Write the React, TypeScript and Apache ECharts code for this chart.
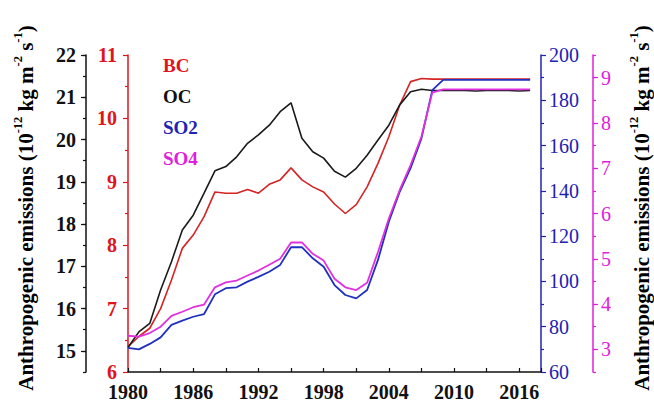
import React, { useEffect, useRef } from "react";
import * as echarts from "echarts";

const years = [
  1980, 1981, 1982, 1983, 1984, 1985, 1986, 1987, 1988, 1989, 1990, 1991, 1992,
  1993, 1994, 1995, 1996, 1997, 1998, 1999, 2000, 2001, 2002, 2003, 2004, 2005,
  2006, 2007, 2008, 2009, 2010, 2011, 2012, 2013, 2014, 2015, 2016, 2017,
];

const bcValues = [
  6.40, 6.56, 6.69, 7.00, 7.45, 7.95, 8.16, 8.45, 8.84, 8.82, 8.82, 8.88, 8.82,
  8.96, 9.03, 9.22, 9.03, 8.92, 8.84, 8.65, 8.50, 8.64, 8.92, 9.29, 9.71, 10.21,
  10.58, 10.63, 10.62, 10.62, 10.62, 10.62, 10.62, 10.62, 10.62, 10.62, 10.62, 10.62,
];

const ocValues = [
  15.08, 15.45, 15.65, 16.44, 17.11, 17.86, 18.21, 18.73, 19.26, 19.36, 19.59,
  19.91, 20.11, 20.34, 20.66, 20.87, 20.03, 19.71, 19.56, 19.25, 19.11, 19.32,
  19.63, 19.99, 20.34, 20.82, 21.13, 21.19, 21.16, 21.16, 21.17, 21.16, 21.15,
  21.16, 21.17, 21.16, 21.15, 21.16,
];

const so2Values = [
  70.7, 70.0, 72.4, 75.3, 80.8, 82.7, 84.4, 85.6, 94.3, 97.0, 97.4, 99.9, 102.0,
  104.3, 107.3, 115.1, 115.1, 110.2, 106.5, 98.4, 94.0, 92.5, 96.2, 109.5, 126.4,
  139.6, 150.0, 163.2, 184.5, 189.0, 189.0, 189.0, 189.0, 189.0, 189.0, 189.0,
  189.0, 189.0,
];

const so4Values = [
  3.30, 3.28, 3.36, 3.50, 3.74, 3.83, 3.93, 3.99, 4.37, 4.48, 4.52, 4.63, 4.74,
  4.87, 5.00, 5.36, 5.36, 5.11, 4.96, 4.56, 4.37, 4.31, 4.47, 5.15, 5.89, 6.52,
  7.07, 7.70, 8.67, 8.74, 8.74, 8.74, 8.74, 8.74, 8.74, 8.74, 8.74, 8.74,
];

const seriesNames = ["BC", "OC", "SO2", "SO4"];
const ocTickLabels = [15, 16, 17, 18, 19, 20, 21, 22];
const so4TickLabels = [3, 4, 5, 6, 7, 8, 9];

const RED = "#e0141c";
const BLACK = "#111111";
const BLUE = "#2222b4";
const MAGENTA = "#e020dc";
const FONT = "'Liberation Serif', 'DejaVu Serif', serif";

const toPairs = (vals: number[]) => years.map((y, i) => [y, vals[i]]);

export default function App() {
  const ref = useRef<HTMLDivElement>(null);

  useEffect(() => {
    if (!ref.current) return;
    const chart = echarts.init(ref.current, undefined, { renderer: "svg" });

    const labelStyle = (color: string, bold: boolean, margin: number) => ({
      color,
      fontFamily: FONT,
      fontSize: 20,
      fontWeight: bold ? "bold" : "normal",
      margin,
    });

    const titleText =
      "{a|Anthropogenic emissions (10}{s|-12}{a| kg m}{s|-2}{a| s}{s|-1}{a|)}";
    const titleRich = {
      a: {
        fontFamily: FONT,
        fontSize: 21,
        fontWeight: "bold",
        color: "#000",
        lineHeight: 25,
        verticalAlign: "bottom",
      },
      s: {
        fontFamily: FONT,
        fontSize: 12.5,
        fontWeight: "bold",
        color: "#000",
        lineHeight: 25,
        verticalAlign: "top",
      },
    };

    const legendColors = [RED, BLACK, BLUE, MAGENTA];

    const option: any = {
      animation: false,
      backgroundColor: "#ffffff",
      grid: { left: 128, right: 113, top: 55, bottom: 38 },
      xAxis: {
        type: "value",
        min: 1980,
        max: 2018,
        interval: 3,
        axisLine: { show: true, lineStyle: { color: BLACK, width: 1.5 } },
        axisTick: { show: true, inside: true, length: 4, lineStyle: { color: BLACK, width: 1.2 } },
        axisLabel: {
          ...labelStyle(BLACK, true, 10),
          formatter: (v: number) => ((v - 1980) % 6 === 0 && v <= 2016 ? String(v) : ""),
        },
        splitLine: { show: false },
      },
      yAxis: [
        {
          type: "value",
          position: "left",
          offset: 0,
          min: 6,
          max: 11,
          interval: 1,
          axisLine: { show: true, lineStyle: { color: RED, width: 1.5 } },
          axisTick: { show: true, length: 5, lineStyle: { color: RED, width: 1.2 } },
          minorTick: { show: true, splitNumber: 2, length: 3, lineStyle: { color: RED, width: 1.2 } },
          axisLabel: labelStyle(RED, true, 11),
          splitLine: { show: false },
        },
        {
          type: "value",
          position: "left",
          offset: 42,
          min: 14.5,
          max: 22,
          interval: 0.5,
          axisLine: { show: true, lineStyle: { color: BLACK, width: 1.5 } },
          axisTick: { show: true, length: 5, customValues: ocTickLabels, lineStyle: { color: BLACK, width: 1.2 } },
          axisLabel: {
            ...labelStyle(BLACK, true, 10),
            customValues: ocTickLabels,
            formatter: (v: number) => (Number.isInteger(v) ? String(v) : ""),
          },
          splitLine: { show: false },
        },
        {
          type: "value",
          position: "right",
          offset: 0,
          min: 60,
          max: 200,
          interval: 20,
          axisLine: { show: true, lineStyle: { color: BLUE, width: 1.5 } },
          axisTick: { show: true, length: 5, lineStyle: { color: BLUE, width: 1.2 } },
          minorTick: { show: true, splitNumber: 2, length: 3, lineStyle: { color: BLUE, width: 1.2 } },
          axisLabel: labelStyle(BLUE, false, 8),
          splitLine: { show: false },
        },
        {
          type: "value",
          position: "right",
          offset: 52,
          min: 2.5,
          max: 9.5,
          interval: 0.5,
          axisLine: { show: true, lineStyle: { color: MAGENTA, width: 1.5 } },
          axisTick: { show: true, length: 5, customValues: so4TickLabels, lineStyle: { color: MAGENTA, width: 1.2 } },
          axisLabel: {
            ...labelStyle(MAGENTA, false, 8),
            customValues: so4TickLabels,
            formatter: (v: number) => (Number.isInteger(v) ? String(v) : ""),
          },
          splitLine: { show: false },
        },
        {
          type: "value",
          position: "left",
          offset: 42,
          min: 14.5,
          max: 22,
          interval: 0.5,
          axisLine: { show: false },
          axisTick: { show: true, length: 3, lineStyle: { color: BLACK, width: 1.2 } },
          axisLabel: { show: false },
          splitLine: { show: false },
        },
        {
          type: "value",
          position: "right",
          offset: 52,
          min: 2.5,
          max: 9.5,
          interval: 0.5,
          axisLine: { show: false },
          axisTick: { show: true, length: 3, lineStyle: { color: MAGENTA, width: 1.2 } },
          axisLabel: { show: false },
          splitLine: { show: false },
        },
      ],
      series: [
        {
          name: seriesNames[0],
          type: "line",
          yAxisIndex: 0,
          data: toPairs(bcValues),
          showSymbol: false,
          lineStyle: { color: "#d42424", width: 1.6 },
          z: 2,
        },
        {
          name: seriesNames[1],
          type: "line",
          yAxisIndex: 1,
          data: toPairs(ocValues),
          showSymbol: false,
          lineStyle: { color: "#1a1a1a", width: 1.6 },
          z: 2,
        },
        {
          name: seriesNames[2],
          type: "line",
          yAxisIndex: 2,
          data: toPairs(so2Values),
          showSymbol: false,
          lineStyle: { color: "#2030c0", width: 1.8 },
          z: 2,
        },
        {
          name: seriesNames[3],
          type: "line",
          yAxisIndex: 3,
          data: toPairs(so4Values),
          showSymbol: false,
          lineStyle: { color: "#e030e0", width: 1.8 },
          z: 3,
        },
      ],
      graphic: [
        ...seriesNames.map((n, i) => ({
          type: "text",
          left: 163,
          top: 56 + i * 31,
          style: {
            text: n,
            fill: legendColors[i],
            font: `bold 19px ${FONT}`,
          },
        })),
        {
          type: "text",
          x: 24,
          y: 208,
          rotation: Math.PI / 2,
          style: {
            text: titleText,
            rich: titleRich,
            align: "center",
            verticalAlign: "middle",
          },
        },
        {
          type: "text",
          x: 640,
          y: 208,
          rotation: Math.PI / 2,
          style: {
            text: titleText,
            rich: titleRich,
            align: "center",
            verticalAlign: "middle",
          },
        },
      ],
    };

    chart.setOption(option);
    return () => chart.dispose();
  }, []);

  return (
    <div
      ref={ref}
      style={{ position: "fixed", left: 0, top: 0, width: 654, height: 410, background: "#fff" }}
    />
  );
}
